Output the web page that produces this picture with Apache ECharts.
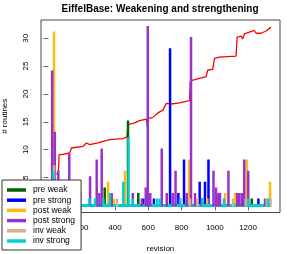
<!DOCTYPE html>
<html><head><meta charset="utf-8">
<script src="https://cdn.jsdelivr.net/npm/echarts@6/dist/echarts.min.js"></script>
<style>html,body{margin:0;padding:0;background:#fff}#c{width:294px;height:254px}</style>
</head><body><div id="c"></div>
<script>
// ---- data (revision, number of routines) ----
const preWeak = [[338,3],[478,15],[540,2],[1222,1]];
const preStrong = [[190,2],[570,1],[634,1],[731,28],[781,2],[815,8],[909,4],[921,1],[941,4],[962,8],[1262,1]];
const postWeak = [[33,31],[358,4],[394,1],[460,6],[845,8],[955,1],[1062,2],[1122,2],[1192,8],[1332,4]];
const postStrong = [[22,24],[38,13],[59,6],[125,9],[250,5],[290,8],[306,2],[320,10],[380,2],[507,2],[561,1],[585,3],[597,32],[612,2],[681,10],[711,2],[747,2],[764,6],[791,1],[831,2],[857,30],[881,2],[921,1],[992,6],[1007,3],[1021,2],[1031,2],[1082,6],[1135,2],[1147,2],[1162,2],[1177,8],[1201,6],[1302,1]];
const invWeak = [[34,7],[185,1],[412,1],[851,1],[895,1],[1110,1],[1186,1],[1312,1],[1335,1]];
const invStrong = [[29,6],[176,1],[246,1],[280,1],[330,1],[370,2],[450,4],[481,12],[506,1],[654,1],[670,1],[791,1],[927,1],[1055,1],[1201,1],[1322,1]];
const invStrongBaseline = [7, 1336]; // first and last revision (zero level)
const cumulative = [[50,5.5],[60,6.4],[64,9.1],[78,9.1],[128,9.4],[138,10.3],[208,10.6],[228,11.2],[248,10.9],[298,11.2],[328,11.5],[338,11.2],[368,11.8],[378,12.1],[448,12.0],[472,12.3],[478,14.5],[518,14.8],[548,15.2],[588,15.5],[598,13.6],[602,15.6],[628,15.8],[658,16.6],[688,17.1],[708,18.3],[738,18.2],[788,18.4],[848,18.8],[852,22.2],[868,22.5],[908,22.8],[948,23.1],[958,24.3],[988,24.4],[998,26.4],[1028,26.6],[1128,26.8],[1134,30.2],[1158,30.4],[1168,29.9],[1178,30.8],[1208,31.1],[1238,31.4],[1248,30.9],[1278,30.9],[1308,31.3],[1338,32.0]];
const seriesNames = ['pre weak','pre strong','post weak','post strong','inv weak','inv strong'];
const xTicks = [0,200,400,600,800,1000,1200];
const yTicks = [0,5,10,15,20,25,30];

const colors = ['#006400','#0000FF','#FFB90F','#9932CC','#D2B48C','#00CED1'];
const FONT = 'Liberation Sans';
const chart = echarts.init(document.getElementById('c'), null, {renderer:'canvas'});

function renderBar(params, api){
  const x = api.value(0), v = api.value(1);
  const p0 = api.coord([x, 0]), p1 = api.coord([x, v]);
  const w = 2.5;
  return {type:'rect', shape:{x:p0[0]-w/2, y:p1[1]-w/2, width:w, height:(p0[1]-p1[1])+w},
          style:{fill: api.visual('color')}};
}
const datasets = [preWeak, preStrong, postWeak, postStrong, invWeak, invStrong];
const series = [{
  type:'line', name:'cum', data:cumulative, showSymbol:false, symbol:'none',
  lineStyle:{color:'#FF0000', width:1.3}, z:1, animation:false, silent:true
}];
datasets.forEach((d,i)=>{
  const s = {type:'custom', name:seriesNames[i], data:d, renderItem:renderBar,
    encode:{x:0,y:1}, itemStyle:{color:colors[i]}, z:2+i, animation:false, clip:true};
  if (i===5){
    s.markLine = {silent:true, symbol:'none', animation:false, label:{show:false},
      lineStyle:{color:colors[i], width:3, type:'solid'},
      data:[[{coord:[invStrongBaseline[0],0]},{coord:[invStrongBaseline[1],0]}]]};
  }
  series.push(s);
});
const fmt = v => String(v);

chart.setOption({
  animation:false,
  title:{text:'EiffelBase: Weakening and strengthening', left:160, top:4, textAlign:'center', padding:0,
    textStyle:{fontFamily:FONT, fontSize:10, fontWeight:'bold', color:'#000'}},
  grid:{left:41, right:14, top:20, bottom:41.5, show:true, borderColor:'#444', borderWidth:1,
    containLabel:false, outerBoundsMode:'none'},
  legend:{data:seriesNames.map((n,i)=>({name:n, icon:'rect', itemStyle:{color:colors[i]}})),
    orient:'vertical', left:2, top:180, itemWidth:19, itemHeight:3.5, itemGap:0.2,
    padding:[5,6,4,5], backgroundColor:'#fff', borderColor:'#333', borderWidth:1, borderRadius:0,
    textStyle:{fontFamily:FONT, fontSize:8.5, lineHeight:10, color:'#000', padding:[0,0,0,2]}, z:10},
  xAxis:{type:'value', min:-45, max:1392, name:'revision', nameLocation:'middle', nameGap:32,
    nameTextStyle:{fontFamily:FONT, fontSize:8, color:'#000'},
    axisLine:{show:false}, splitLine:{show:false},
    axisTick:{show:true, inside:false, length:5, customValues:xTicks, lineStyle:{color:'#666'}},
    axisLabel:{customValues:xTicks, formatter:fmt, margin:11, fontFamily:FONT, fontSize:8, color:'#000'}},
  yAxis:{type:'value', min:-1.28, max:33.28, name:'# routines', nameLocation:'middle', nameGap:32, nameRotate:90,
    nameTextStyle:{fontFamily:FONT, fontSize:8, color:'#000'},
    axisLine:{show:false}, splitLine:{show:false},
    axisTick:{show:true, inside:false, length:5, customValues:yTicks, lineStyle:{color:'#666'}},
    axisLabel:{customValues:yTicks, formatter:fmt, rotate:90, margin:11, fontFamily:FONT, fontSize:8, color:'#000'}},
  series:series
});
</script></body></html>
